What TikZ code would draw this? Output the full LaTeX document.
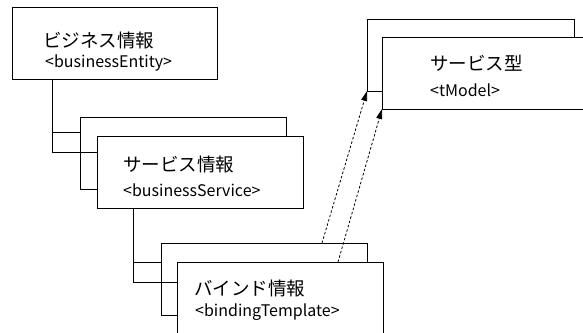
\documentclass[tikz,border=0pt]{standalone}
\usepackage{fontspec}
\setmainfont{Noto Sans CJK JP}
\usetikzlibrary{positioning}
\usetikzlibrary{arrows.meta}

\begin{document}
\begin{tikzpicture}[x=1pt, y=-1pt,
  box/.style={draw, fill=white, line width=0.8pt, inner sep=0pt, outer sep=0pt, anchor=north west, minimum width=206pt, minimum height=72pt},
  jp/.style={anchor=west, inner sep=0pt, font=\fontsize{18.5}{19}\selectfont},
  en/.style={anchor=west, inner sep=0pt, font=\fontsize{16}{17}\selectfont},
  link/.style={line width=0.8pt},
  ref/.style={line width=0.8pt, dash pattern=on 2.5pt off 2pt, -{Triangle[length=10pt, width=6pt]}}]

  \useasboundingbox (0,0) rectangle (583,332);
  \clip (0,0) rectangle (583,332);

  % Kästen
  \node[box, minimum width=205pt] (ent) at (12,7) {}; % businessEntity
  \node[box] (svcB) at (80,117) {};
  \node[box] (svcF) at (97,136) {}; % businessService
  \node[box] (bndB) at (161,243) {};
  \node[box, minimum height=100pt] (bndF) at (177,262) {}; % bindingTemplate
  \node[box, minimum width=207pt] (tmB) at (367,19) {};
  \node[box, minimum width=230pt] (tmF) at (382,37) {}; % tModel

  % Texte
  \node[jp] (entJ) at (43,40) {ビジネス情報};
  \node[en] (entE) at (45,63) {<businessEntity>};
  \node[jp] (svcJ) at (123,164) {サービス情報};
  \node[en] (svcE) at (123,190) {<businessService>};
  \node[jp] (bndJ) at (194,288) {バインド情報};
  \node[en] (bndE) at (195,312) {<bindingTemplate>};
  \node[jp] (tmJ) at (430,63) {サービス型};
  \node[en] (tmE) at (430,90) {<tModel>};

  % Baumlinien
  \draw[link] ([xshift=40pt]ent.south west) |- ([yshift=-15pt]svcB.north west);
  \draw[link] ([xshift=40pt]ent.south west) |- ([yshift=-16pt]svcF.north west);
  \draw[link] ([xshift=36pt]svcF.south west) |- ([yshift=-19pt]bndB.north west);
  \draw[link] ([xshift=36pt]svcF.south west) |- ([yshift=-20pt]bndF.north west);

  % Verweise
  \draw[ref] ([xshift=161pt]bndB.north west) -- (tmB.south west);
  \draw[ref] ([xshift=161pt]bndF.north west) -- (tmF.south west);

\end{tikzpicture}
\end{document}
